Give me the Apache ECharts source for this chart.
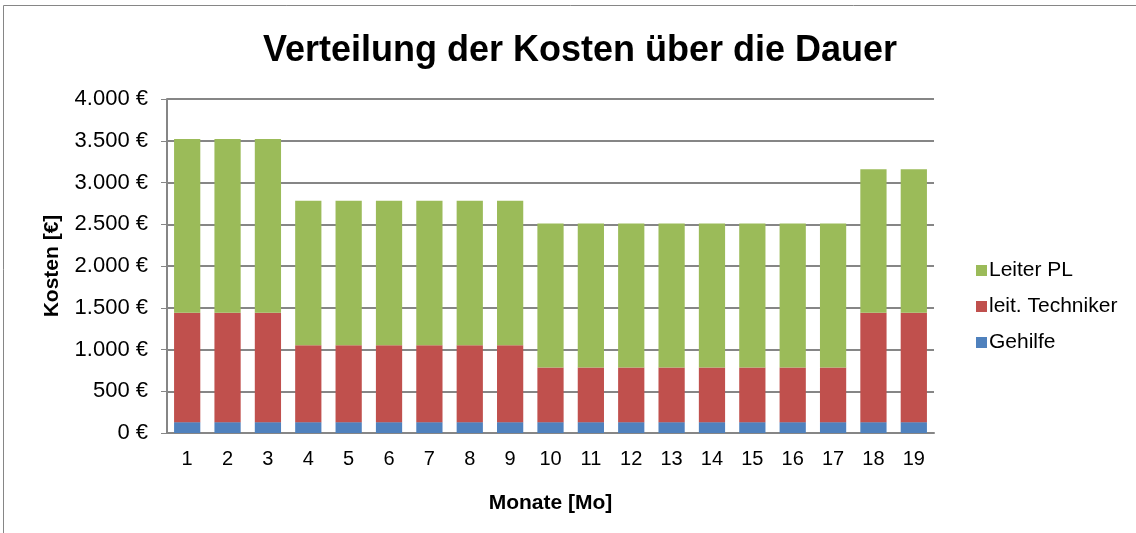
<!DOCTYPE html>
<html>
<head>
<meta charset="utf-8">
<script src="https://cdn.jsdelivr.net/npm/echarts@6/dist/echarts.min.js"></script>
<style>
  html, body { margin: 0; padding: 0; background: #fff; }
  #chart { width: 1136px; height: 533px; }
</style>
</head>
<body>
<div id="chart"></div>
<script>
const months = ['1','2','3','4','5','6','7','8','9','10','11','12','13','14','15','16','17','18','19']
const gehilfe = [130,130,130,130,130,130,130,130,130,130,130,130,130,130,130,130,130,130,130]
const techniker = [1310,1310,1310,920,920,920,920,920,920,655,655,655,655,655,655,655,655,1310,1310]
const leiterPL = [2080,2080,2080,1730,1730,1730,1730,1730,1730,1725,1725,1725,1725,1725,1725,1725,1725,1720,1720]

const fmt = (v) => v.toString().replace(/\B(?=(\d{3})+(?!\d))/g, '.') + ' €'

const chart = echarts.init(document.getElementById('chart'))
const font = 'Liberation Sans, Arial, sans-serif'

chart.setOption({
  animation: false,
  backgroundColor: '#fff',
  textStyle: { fontFamily: font },
  title: {
    text: 'Verteilung der Kosten über die Dauer',
    left: 575,
    textAlign: 'center',
    top: 28,
    textStyle: { fontSize: 36, fontWeight: 'bold', color: '#000', fontFamily: font },
  },
  legend: {
    orient: 'vertical',
    left: 971,
    top: 255,
    itemWidth: 11,
    itemHeight: 11,
    itemGap: 15,
    icon: 'rect',
    data: ['Leiter PL', 'leit. Techniker', 'Gehilfe'],
    textStyle: { fontSize: 21, color: '#000', fontFamily: font, padding: [0, 0, 0, -3] },
  },
  grid: { left: 167, right: 202, top: 99, bottom: 100, containLabel: false },
  xAxis: {
    type: 'category',
    data: months,
    name: 'Monate [Mo]',
    nameLocation: 'middle',
    nameGap: 60,
    nameTextStyle: { fontSize: 21, fontWeight: 'bold', color: '#000' },
    axisTick: { show: false },
    axisLine: { lineStyle: { color: '#868686', width: 2 } },
    axisLabel: { fontSize: 20, color: '#000', margin: 16 },
  },
  yAxis: {
    type: 'value',
    min: 0,
    max: 4000,
    interval: 500,
    name: 'Kosten [€]',
    nameLocation: 'middle',
    nameGap: 104,
    nameRotate: 90,
    nameTextStyle: { fontSize: 21, fontWeight: 'bold', color: '#000' },
    axisLine: { show: true, lineStyle: { color: '#868686', width: 2 } },
    axisTick: { show: true, length: 6, inside: false, lineStyle: { color: '#868686', width: 1 } },
    splitLine: { lineStyle: { color: '#868686', width: 2 } },
    axisLabel: { fontSize: 22, color: '#000', margin: 19, formatter: fmt },
  },
  series: [
    { name: 'Gehilfe', type: 'bar', stack: 'k', data: gehilfe, barWidth: '65%',
      itemStyle: { color: '#4F81BD' } },
    { name: 'leit. Techniker', type: 'bar', stack: 'k', data: techniker, barWidth: '65%',
      itemStyle: { color: '#C0504D' } },
    { name: 'Leiter PL', type: 'bar', stack: 'k', data: leiterPL, barWidth: '65%',
      itemStyle: { color: '#9BBB59' } },
  ],
  graphic: [
    { type: 'rect', shape: { x: 3.5, y: 5.5, width: 1140, height: 540 },
      style: { fill: 'none', stroke: '#868686', lineWidth: 1 }, z: -1 },
  ],
})
</script>
</body>
</html>
